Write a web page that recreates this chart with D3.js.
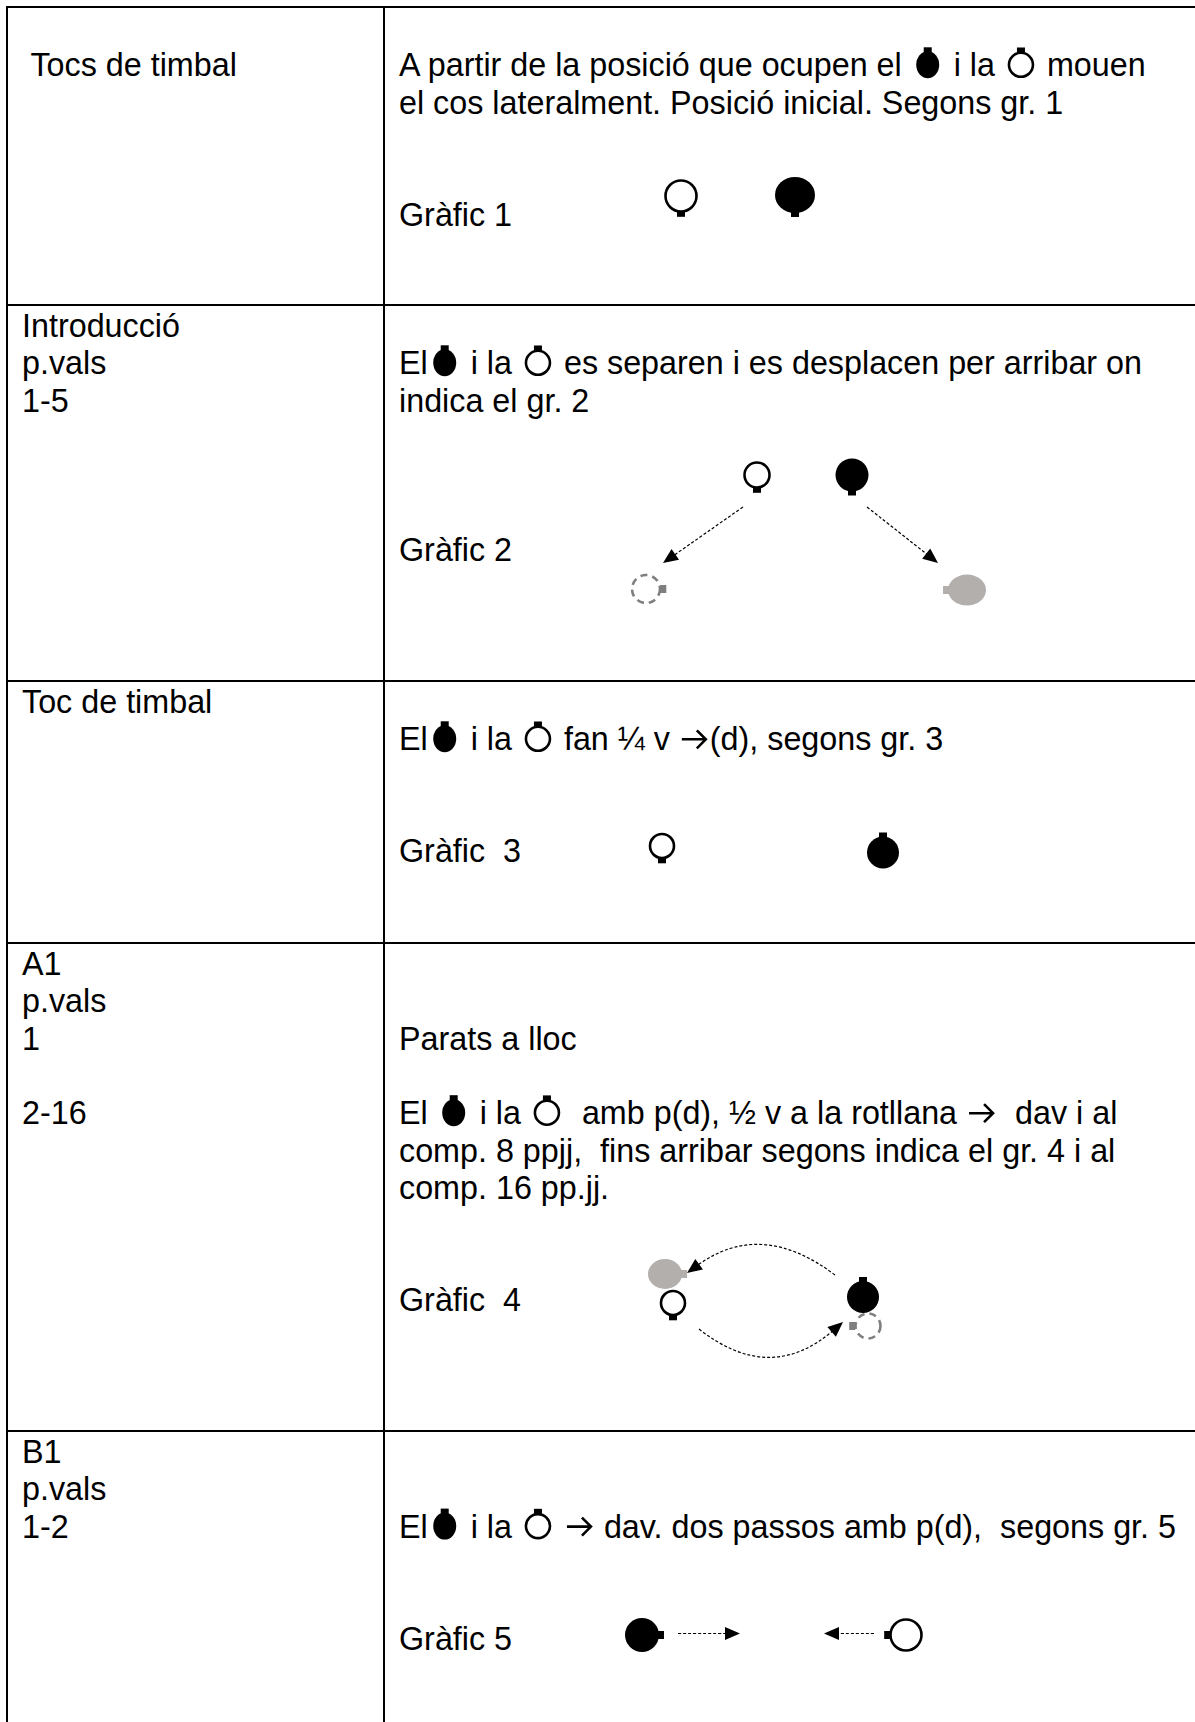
<!DOCTYPE html>
<html>
<head>
<meta charset="utf-8">
<script src="https://cdn.jsdelivr.net/npm/d3@7"></script>
<style>
  body { margin: 0; background: #fff; }
  svg { display: block; }
  text { font-family: "Liberation Sans", Arial, Helvetica, sans-serif; font-size: 32.3px; fill: #000; white-space: pre; }
</style>
</head>
<body>
<div id="chart"></div>
<script>
// Textos de la columna esquerra (un element per línia, "" = línia buida)
const leftLabels = [
  ["", " Tocs de timbal"],
  ["Introducció", "p.vals", "1-5"],
  ["Toc de timbal"],
  ["A1", "p.vals", "1", "", "2-16"],
  ["B1", "p.vals", "1-2"]
];

// Textos de la columna dreta ({H} = home, {D} = dona, {A} = fletxa)
const rightLines = [
  ["", "A partir de la posició que ocupen el {H} i la {D} mouen",
   "el cos lateralment. Posició inicial. Segons gr. 1", "", "", "Gràfic 1"],
  ["", "El{H} i la {D} es separen i es desplacen per arribar on",
   "indica el gr. 2", "", "", "", "Gràfic 2"],
  ["", "El{H} i la {D} fan ¼ v {A}(d), segons gr. 3", "", "", "Gràfic  3"],
  ["", "", "Parats a lloc", "", "El {H} i la {D}  amb p(d), ½ v a la rotllana {A}  dav i al",
   "comp. 8 ppjj,  fins arribar segons indica el gr. 4 i al", "comp. 16 pp.jj.", "", "", "Gràfic  4"],
  ["", "", "El{H} i la {D} {A} dav. dos passos amb p(d),  segons gr. 5", "", "", "Gràfic 5"]
];

// Ballarins de cada gràfic (coordenades de l'escenari dins de la cel·la)
// type: H home, D dona, Hg home destí, Dg dona destí
const dancers = [
  [ { type: "D", x: 297, y: 189, r: 15.5, tab: "down" },
    { type: "H", x: 411, y: 188, r: 20, ry: 18, tab: "down" } ],
  [ { type: "D", x: 373, y: 170, r: 12.5, tab: "down" },
    { type: "H", x: 468, y: 170, r: 16.5, tab: "down" },
    { type: "Dg", x: 262, y: 284, r: 14, tab: "right" },
    { type: "Hg", x: 583, y: 285, r: 19, ry: 15.5, tab: "left" } ],
  [ { type: "D", x: 278, y: 165, r: 12, tab: "down" },
    { type: "H", x: 499, y: 171.5, r: 16, tab: "up" } ],
  [ { type: "Dg", x: 484, y: 383, r: 12.5, tab: "left" },
    { type: "Hg", x: 281, y: 331, r: 17, ry: 15, tab: "right" },
    { type: "D", x: 289, y: 360, r: 12, tab: "down" },
    { type: "H", x: 479, y: 354, r: 16, tab: "up" } ],
  [ { type: "H", x: 258, y: 204, r: 17, tab: "right" },
    { type: "D", x: 522, y: 204, r: 15.5, tab: "left" } ]
];

// Desplaçaments (fletxes discontínues): inici, punt de control, final
const moves = [
  [],
  [ { from: [359, 202], to: [279, 258] },
    { from: [483, 202], to: [554, 258] } ],
  [],
  [ { from: [451, 332], ctrl: [377, 276], to: [303, 330] },
    { from: [315, 386], ctrl: [386, 442], to: [459, 379] } ],
  [ { from: [294, 202.5], to: [356, 202.5] },
    { from: [490, 202.5], to: [440, 202.5] } ]
];

const W = 1195, H = 1722;
const rowTops = [7, 305, 681, 943, 1431];
const colX = [7, 384];
const lineStep = 37.3;
const firstBase = 32;

const svg = d3.select("#chart").append("svg")
  .attr("width", W).attr("height", H);

// Escala horitzontal de l'escenari (columna dreta)
const x = d3.scaleLinear().domain([0, W - colX[1]]).range([colX[1], W]);
const rowBottom = i => (i + 1 < rowTops.length ? rowTops[i + 1] : H);
const yRow = i => d3.scaleLinear().domain([0, rowBottom(i) - rowTops[i]]).range([rowTops[i], rowBottom(i)]);

// Línies de la taula
const grid = svg.append("g").attr("stroke", "#000").attr("stroke-width", 2);
rowTops.forEach(t => grid.append("line").attr("x1", colX[0] - 1).attr("x2", W).attr("y1", t).attr("y2", t));
colX.forEach(c => grid.append("line").attr("x1", c).attr("x2", c).attr("y1", rowTops[0] - 1).attr("y2", H));

const GRAY = "#b2afad", DGRAY = "#7f7f7f";

// Dibuixa un ballarí: cercle/el·lipse amb la pestanya que indica el front
function drawDancer(g, cx, cy, d) {
  const rx = d.r, ry = d.ry || d.r;
  const open = d.type === "D" || d.type === "Dg";
  const sw = open ? 2.6 : 0;
  const col = d.type === "H" ? "#000" : d.type === "D" ? "#000" : d.type === "Hg" ? GRAY : DGRAY;
  const tw = 8, th = 5;
  const ex = rx + sw / 2, ey = ry + sw / 2;
  let tx, ty, w = tw, h = th;
  if (d.tab === "up") { tx = cx - tw / 2; ty = cy - ey - th + 1; }
  if (d.tab === "down") { tx = cx - tw / 2; ty = cy + ey - 1; }
  if (d.tab === "left") { w = th + 1; h = tw; tx = cx - ex - th; ty = cy - tw / 2; }
  if (d.tab === "right") { w = th + 1; h = tw; tx = cx + ex - 1; ty = cy - tw / 2; }
  g.append("rect").attr("x", tx).attr("y", ty).attr("width", w).attr("height", h).attr("fill", col);
  const e = g.append("ellipse").attr("cx", cx).attr("cy", cy).attr("rx", rx).attr("ry", ry);
  if (open) {
    e.attr("fill", "#fff").attr("stroke", col).attr("stroke-width", sw);
    if (d.type === "Dg") e.attr("stroke-dasharray", "7,5").attr("fill", "none");
  } else {
    e.attr("fill", col);
  }
}

// Fletxa de text (tipus →)
function drawTextArrow(g, x0, cy) {
  g.append("path")
    .attr("d", `M${x0 + 3},${cy} H${x0 + 27} M${x0 + 18},${cy - 9} L${x0 + 27},${cy} L${x0 + 18},${cy + 9}`)
    .attr("fill", "none").attr("stroke", "#000").attr("stroke-width", 2.6)
    .attr("stroke-linejoin", "miter");
}

// Línia de text amb símbols incrustats
const SYM = 34, ARR = 31;
function drawRichLine(g, x0, base, str) {
  const parts = str.split(/(\{H\}|\{D\}|\{A\})/);
  let cx = x0;
  parts.forEach(p => {
    if (p === "{H}") {
      drawDancer(g, cx + SYM / 2, base - 11.5, { type: "H", r: 11.5, ry: 13.5, tab: "up" });
      cx += SYM;
    } else if (p === "{D}") {
      drawDancer(g, cx + SYM / 2, base - 11.5, { type: "D", r: 12, tab: "up" });
      cx += SYM;
    } else if (p === "{A}") {
      drawTextArrow(g, cx, base - 11);
      cx += ARR;
    } else if (p) {
      const t = g.append("text").attr("x", cx).attr("y", base).text(p);
      cx += t.node().getComputedTextLength();
    }
  });
}

const textG = svg.append("g");
leftLabels.forEach((lines, i) => {
  lines.forEach((s, j) => {
    if (s) textG.append("text").attr("x", 22).attr("y", rowTops[i] + firstBase + j * lineStep).text(s);
  });
});
rightLines.forEach((lines, i) => {
  lines.forEach((s, j) => {
    if (s) drawRichLine(textG, 399, rowTops[i] + firstBase + j * lineStep, s);
  });
});

// Gràfics
const figG = svg.append("g");
moves.forEach((list, i) => {
  const y = yRow(i);
  list.forEach(m => {
    const p0 = [x(m.from[0]), y(m.from[1])];
    const p2 = [x(m.to[0]), y(m.to[1])];
    const p1 = m.ctrl ? [x(m.ctrl[0]), y(m.ctrl[1])] : [(p0[0] + p2[0]) / 2, (p0[1] + p2[1]) / 2];
    const dx = p2[0] - p1[0], dy = p2[1] - p1[1];
    const len = Math.hypot(dx, dy), ux = dx / len, uy = dy / len;
    const hl = 15, hw = 6.5;
    const bx = p2[0] - ux * hl, by = p2[1] - uy * hl;
    const path = d3.path();
    path.moveTo(p0[0], p0[1]);
    path.quadraticCurveTo(p1[0], p1[1], bx + ux * 2, by + uy * 2);
    figG.append("path").attr("d", path.toString())
      .attr("fill", "none").attr("stroke", "#000").attr("stroke-width", 1.2)
      .attr("stroke-dasharray", "3,2");
    figG.append("polygon")
      .attr("points", [[p2[0], p2[1]], [bx - uy * hw, by + ux * hw], [bx + uy * hw, by - ux * hw]].map(q => q.join(",")).join(" "))
      .attr("fill", "#000");
  });
});
dancers.forEach((list, i) => {
  const y = yRow(i);
  list.forEach(d => drawDancer(figG, x(d.x), y(d.y), d));
});
</script>
</body>
</html>
